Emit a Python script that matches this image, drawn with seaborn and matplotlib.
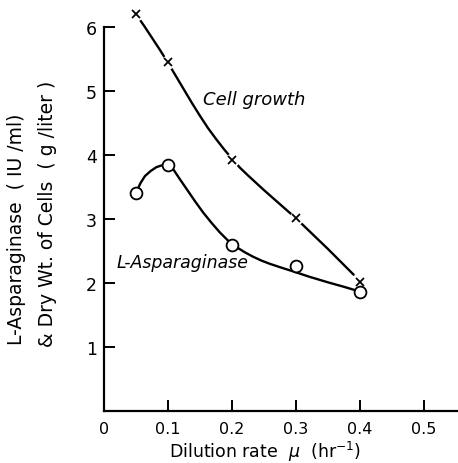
import matplotlib
matplotlib.use("Agg")
import matplotlib.pyplot as plt
import numpy as np
import pandas as pd
import seaborn as sns

sns.set_style("ticks")
plt.rcParams["font.family"] = ["DejaVu Sans"]
plt.rcParams.update({
    "text.color": "black",
    "xtick.color": "black",
    "ytick.color": "black",
    "axes.edgecolor": "black",
})

# measured points
dilution = [0.05, 0.1, 0.2, 0.3, 0.4]
cell_growth = [6.2, 5.45, 3.92, 3.02, 2.02]
asparaginase = [3.41, 3.85, 2.6, 2.27, 1.86]

# hand-drawn fitted curves
cell_curve_x = [0.05, 0.0625, 0.075, 0.0875, 0.1, 0.1125, 0.125, 0.1375, 0.15, 0.1625,
                0.175, 0.1875, 0.2, 0.2125, 0.225, 0.25, 0.275, 0.3, 0.325, 0.35, 0.375, 0.39]
cell_curve_y = [6.2, 6.02, 5.83, 5.64, 5.44, 5.23, 5.02, 4.81, 4.61, 4.42,
                4.25, 4.09, 3.94, 3.8, 3.68, 3.45, 3.23, 3.01, 2.77, 2.53, 2.28, 2.13]
asp_curve_x = [0.05, 0.057, 0.064, 0.073, 0.082, 0.091, 0.1, 0.104, 0.108, 0.118, 0.129,
               0.142, 0.155, 0.168, 0.181, 0.194, 0.207, 0.22, 0.233, 0.246, 0.259,
               0.277, 0.296, 0.32, 0.35, 0.375, 0.395]
asp_curve_y = [3.41, 3.56, 3.67, 3.75, 3.81, 3.84, 3.86, 3.83, 3.78, 3.63, 3.47,
               3.28, 3.1, 2.94, 2.79, 2.66, 2.56, 2.48, 2.41, 2.35, 2.3,
               2.24, 2.18, 2.1, 2.01, 1.94, 1.88]

xticks = [0, 0.1, 0.2, 0.3, 0.4, 0.5]
xticklabels = ["0", "0.1", "0.2", "0.3", "0.4", "0.5"]
yticks = [1, 2, 3, 4, 5, 6]

fig = plt.figure(figsize=(4.58, 4.64), dpi=100)
ax = fig.add_axes([0.227, 0.112, 0.773, 0.883])

sns.lineplot(x=cell_curve_x, y=cell_curve_y, ax=ax, color="black", lw=1.7, sort=False)
sns.lineplot(x=asp_curve_x, y=asp_curve_y, ax=ax, color="black", lw=1.7, sort=False)

# white halo under the crosses to break the line like the original
ax.plot(dilution, cell_growth, ls="none", marker="o", ms=9, mfc="white", mec="white", zorder=3)
ax.plot(dilution, cell_growth, ls="none", marker="x", ms=6, mew=1.3, color="black", zorder=4)
ax.plot(dilution, asparaginase, ls="none", marker="o", ms=8.5, mfc="white", mec="black",
        mew=1.3, zorder=4)

ax.text(0.155, 4.88, "Cell growth", fontsize=13, style="italic", va="center", ha="left")
ax.text(0.02, 2.33, "L-Asparaginase", fontsize=12.5, style="italic", va="center", ha="left")

ax.set_xlim(0, 0.553)
ax.set_ylim(0, 6.4)
ax.set_xticks(xticks)
ax.set_xticklabels(xticklabels, fontsize=11.5)
ax.set_yticks(yticks)
ax.set_yticklabels([str(v) for v in yticks], fontsize=12.5)
ax.tick_params(axis="both", direction="in", length=8, width=1.4, pad=5)
ax.tick_params(axis="x", pad=7)

for side in ["top", "right"]:
    ax.spines[side].set_visible(False)
ax.spines["left"].set_bounds(0, 6)
ax.spines["left"].set_linewidth(1.6)
ax.spines["bottom"].set_linewidth(1.6)

fig.text(0.037, 0.506, "L-Asparaginase  ( IU /ml)", rotation=90, fontsize=13.5,
         ha="center", va="center")
fig.text(0.103, 0.539, "& Dry Wt. of Cells  ( g /liter )", rotation=90, fontsize=13.5,
         ha="center", va="center")
fig.text(0.578, 0.026, r"Dilution rate  $\mu$  (hr$^{-1}$)", fontsize=12.5,
         ha="center", va="center")

fig.savefig("out.png", dpi=100)
